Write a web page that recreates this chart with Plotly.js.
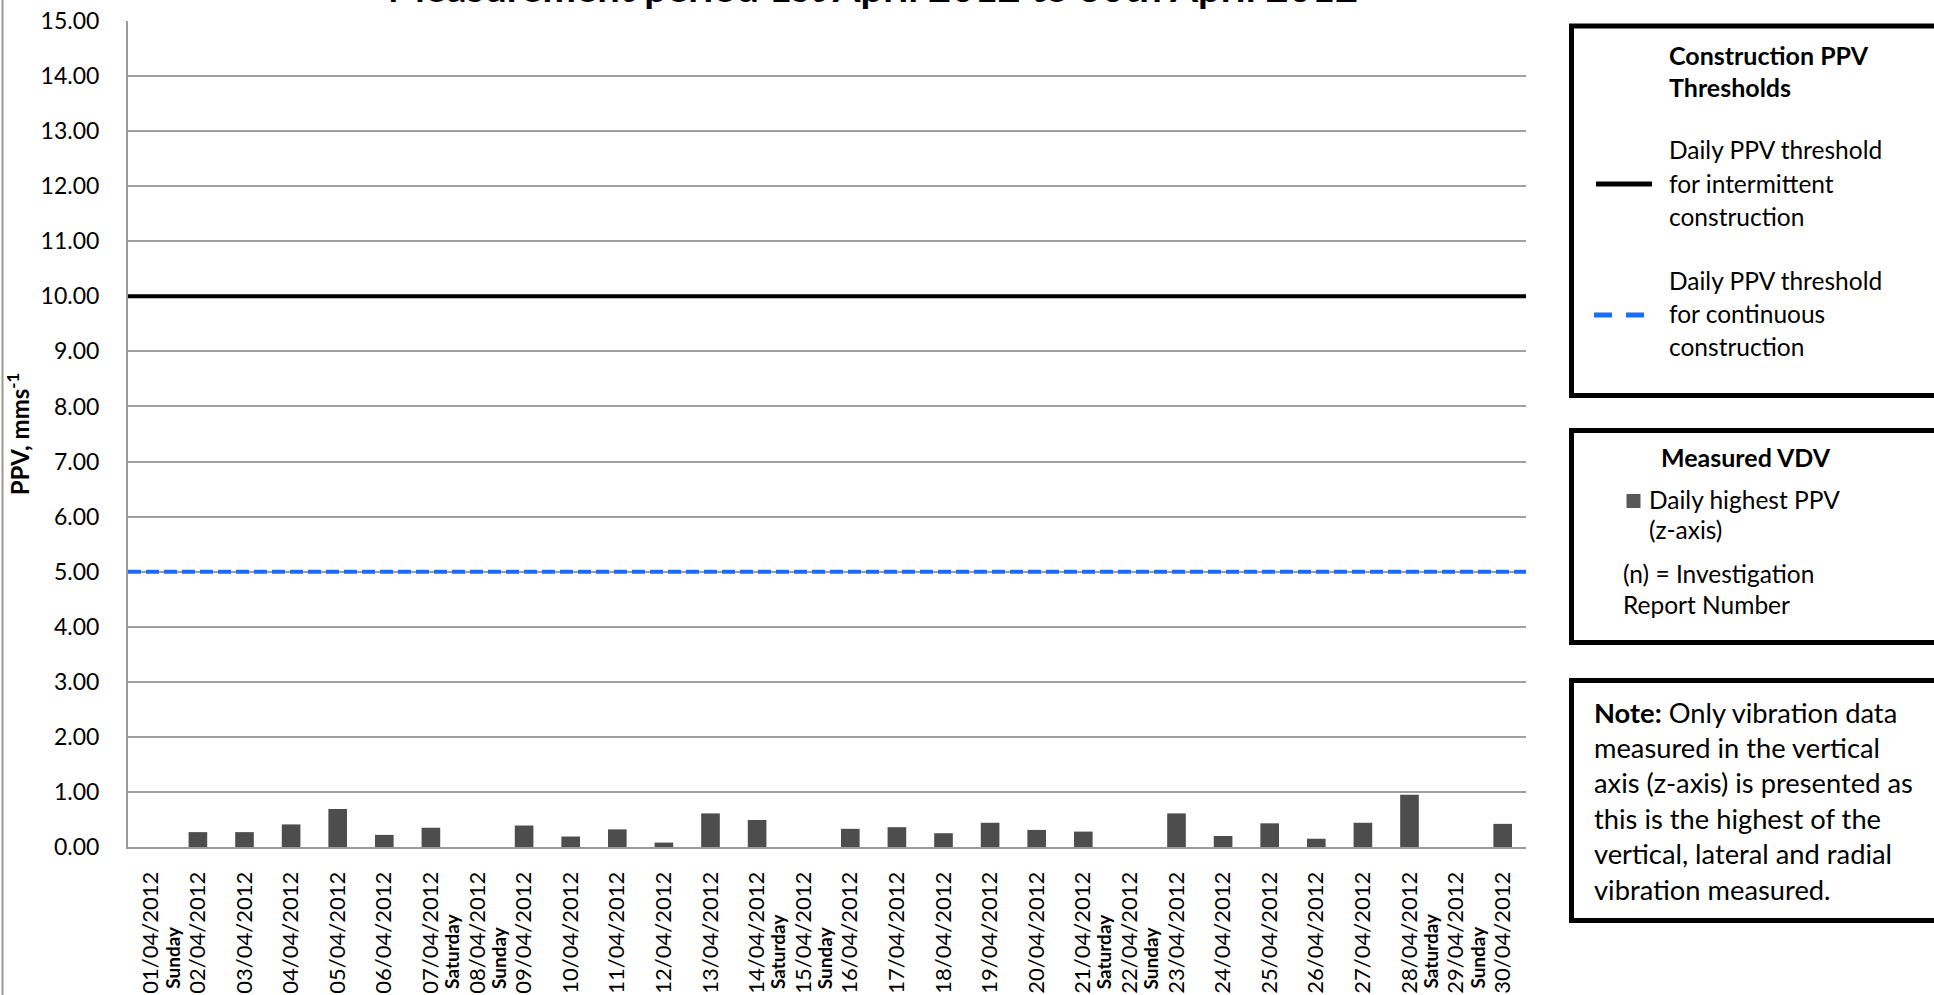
<!DOCTYPE html>
<html><head><meta charset="utf-8">
<script src="https://cdn.plot.ly/plotly-3.0.1.min.js"></script>
<style>html,body{margin:0;padding:0;background:#fff;overflow:hidden;} #chart{width:1934px;height:995px;}</style>
</head><body><div id="chart"></div>
<script>
// ---------------- data ----------------
const dates = ['01/04/2012','02/04/2012','03/04/2012','04/04/2012','05/04/2012','06/04/2012','07/04/2012','08/04/2012','09/04/2012','10/04/2012',
  '11/04/2012','12/04/2012','13/04/2012','14/04/2012','15/04/2012','16/04/2012','17/04/2012','18/04/2012','19/04/2012','20/04/2012',
  '21/04/2012','22/04/2012','23/04/2012','24/04/2012','25/04/2012','26/04/2012','27/04/2012','28/04/2012','29/04/2012','30/04/2012'];
const weekendLabels = ['Sunday','','','','','','Saturday','Sunday','','',
  '','','','Saturday','Sunday','','','','','',
  'Saturday','Sunday','','','','','','Saturday','Sunday',''];
const dailyPPV = [null,0.27,0.27,0.41,0.69,0.22,0.35,null,0.39,0.19,
  0.32,0.08,0.61,0.49,null,0.33,0.36,0.25,0.44,0.31,
  0.28,null,0.61,0.20,0.43,0.15,0.44,0.95,null,0.42];
const thresholdIntermittent = 10;
const thresholdContinuous = 5;
const yTickValues = [0,1,2,3,4,5,6,7,8,9,10,11,12,13,14,15];

// ---------------- layout helpers ----------------
const W = 1934, H = 995, L = 128, R = 408, T = 21, B = 148;
const PW = W - L - R, PH = H - T - B;
const px = x => (x - L) / PW;
const py = y => (H - B - y) / PH;
const FONT = 'Lato, "Open Sans", sans-serif';

function txt(text, x, baseline, size, anchor) {
  return {xref:'paper', yref:'paper', x:px(x), y:py(baseline - 0.34*size),
    xanchor: anchor || 'left', yanchor:'middle', text:text, showarrow:false,
    borderpad:0, font:{family:FONT, size:size, color:'#000'}};
}

const annotations = [];
// weekend labels under dates
dates.forEach((d, i) => {
  if (weekendLabels[i]) {
    annotations.push({xref:'x', yref:'paper', x:d, xshift:21, y:py(990), yanchor:'bottom', xanchor:'center',
      textangle:-90, text:'<b>'+weekendLabels[i]+'</b>', showarrow:false, borderpad:0,
      font:{family:FONT, size:19, color:'#000'}});
  }
});
// legend box 1
annotations.push(txt('<b>Construction PPV</b>', 1668, 63, 25));
annotations.push(txt('<b>Thresholds</b>', 1668, 95, 25));
annotations.push(txt('Daily PPV threshold', 1668, 158, 24.5));
annotations.push(txt('for intermittent', 1668, 192, 24.5));
annotations.push(txt('construction', 1668, 225, 24.5));
annotations.push(txt('Daily PPV threshold', 1668, 289, 24.5));
annotations.push(txt('for continuous', 1668, 322, 24.5));
annotations.push(txt('construction', 1668, 355, 24.5));
// legend box 2
annotations.push(txt('<b>Measured VDV</b>', 1660, 465, 25));
annotations.push(txt('Daily highest PPV', 1648, 508, 24.5));
annotations.push(txt('(z-axis)', 1648, 538, 24.5));
annotations.push(txt('(n) = Investigation', 1622, 582, 24.5));
annotations.push(txt('Report Number', 1622, 613, 24.5));
// note box
const noteLines = ['<b>Note:</b> Only vibration data','measured in the vertical','axis (z-axis) is presented as',
  'this is the highest of the','vertical, lateral and radial','vibration measured.'];
const noteBase = [722, 757, 792, 828, 863, 899];
noteLines.forEach((t, i) => annotations.push(txt(t, 1593, noteBase[i], 27.3)));

const shapes = [
  // outer chart border (left)
  {type:'line', xref:'paper', yref:'paper', x0:px(2.5), x1:px(2.5), y0:py(0), y1:py(995), line:{color:'#9a9a9a', width:2}},
  // threshold lines
  {type:'line', xref:'paper', yref:'y', x0:0, x1:1, y0:thresholdIntermittent, y1:thresholdIntermittent, line:{color:'#000', width:4}},
  {type:'line', xref:'paper', yref:'y', x0:0, x1:1, y0:thresholdContinuous, y1:thresholdContinuous, line:{color:'#1c6bff', width:4, dash:'13px,5px'}},
  // legend boxes
  {type:'rect', xref:'paper', yref:'paper', x0:px(1571.5), x1:px(2000), y0:py(26), y1:py(395.5), line:{color:'#000', width:5}},
  {type:'rect', xref:'paper', yref:'paper', x0:px(1571.5), x1:px(2000), y0:py(430.5), y1:py(642.5), line:{color:'#000', width:5}},
  {type:'rect', xref:'paper', yref:'paper', x0:px(1571.5), x1:px(2000), y0:py(680.5), y1:py(920.5), line:{color:'#000', width:5}},
  // legend samples
  {type:'line', xref:'paper', yref:'paper', x0:px(1596), x1:px(1652), y0:py(184), y1:py(184), line:{color:'#000', width:5}},
  {type:'line', xref:'paper', yref:'paper', x0:px(1594), x1:px(1645), y0:py(315), y1:py(315), line:{color:'#1c6bff', width:5, dash:'18px,14px'}},
  {type:'rect', xref:'paper', yref:'paper', x0:px(1626.5), x1:px(1640.5), y0:py(494), y1:py(508), fillcolor:'#595959', line:{width:0}}
];

const data = [{
  type:'bar', x:dates, y:dailyPPV, name:'Daily highest PPV (z-axis)',
  marker:{color:'#4d4d4d'}, showlegend:false
}];

const layout = {
  width:W, height:H, autosize:false,
  margin:{l:L, r:R, t:T, b:B, pad:0},
  paper_bgcolor:'#fff', plot_bgcolor:'#fff',
  showlegend:false, bargap:0.6, hovermode:false,
  title:{text:'<b>Measurement period 1st April 2012 to 30th April 2012</b>', xref:'container', yref:'container',
    x:873/W, xanchor:'center', y:1-2/H, yanchor:'bottom', font:{family:FONT, size:40, color:'#000'}},
  xaxis:{type:'category', categoryorder:'array', categoryarray:dates, tickangle:-90, ticks:'',
    tickfont:{family:FONT, size:22, color:'#000'}, showline:true, linecolor:'#9a9a9a', linewidth:2,
    showgrid:false, zeroline:false, ticklabelstandoff:14, automargin:false},
  yaxis:{range:[0,15], tickvals:yTickValues, tickformat:'.2f', ticks:'', showgrid:true, gridcolor:'#a0a0a0', gridwidth:2,
    showline:true, linecolor:'#9a9a9a', linewidth:2, zeroline:false,
    tickfont:{family:FONT, size:23, color:'#000'}, ticklabelstandoff:22, automargin:false,
    title:{text:'<b>PPV, mms<sup>-1</sup></b>', font:{family:FONT, size:24, color:'#000'}, standoff:4}},
  shapes:shapes, annotations:annotations
};

Plotly.newPlot('chart', data, layout, {staticPlot:true, displayModeBar:false});
</script>
</body></html>
